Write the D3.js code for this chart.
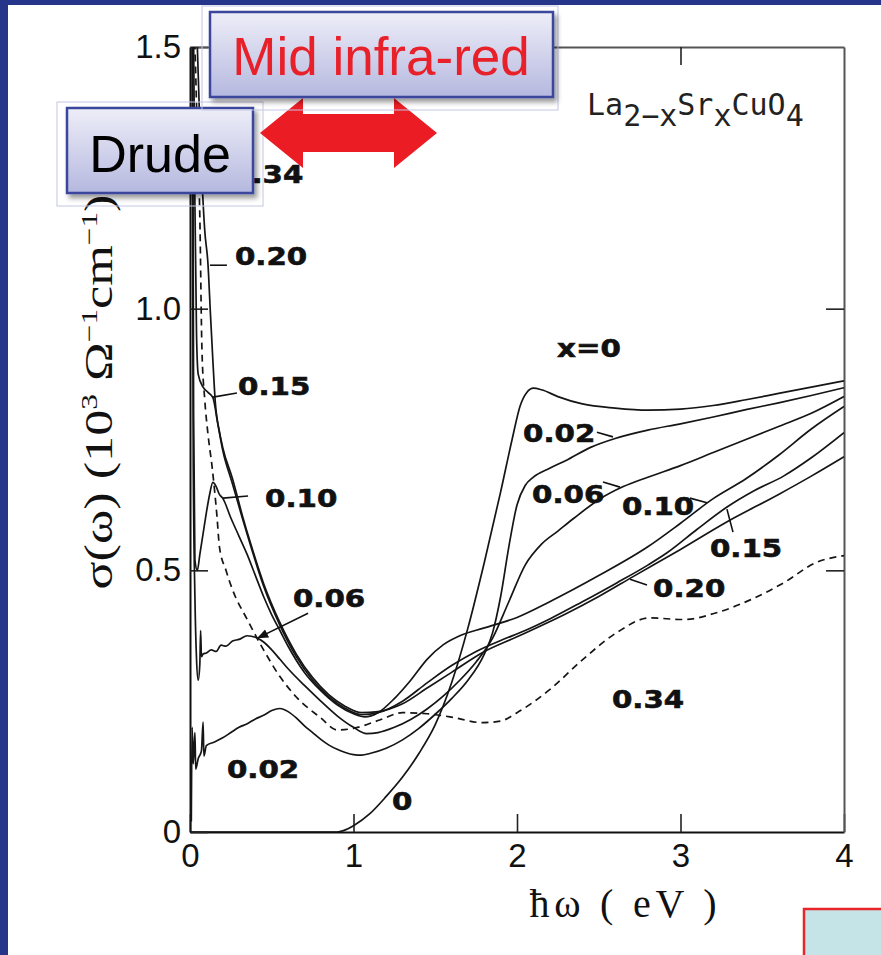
<!DOCTYPE html>
<html><head><meta charset="utf-8">
<script src="https://cdn.jsdelivr.net/npm/d3@7/dist/d3.min.js"></script>
<style>html,body{margin:0;padding:0;background:#fff;}svg{display:block}</style>
</head><body>
<svg id="chart" width="881" height="955"></svg>
<script>
// ---------- data ----------
const xTicks = [0, 1, 2, 3, 4];
const xTickLabels = ["0", "1", "2", "3", "4"];
const yTicks = [0, 0.5, 1.0, 1.5];
const yTickLabels = ["0", "0.5", "1.0", "1.5"];
const dopings = ["0", "0.02", "0.06", "0.10", "0.15", "0.20", "0.34"];

// sigma(omega) in 10^3 Ohm^-1 cm^-1 vs photon energy (eV), [eV, sigma]
const sigmaX000 = [[0,0],[0.5,0],[0.9,0],[0.95,0.004],[1.0,0.012],[1.1,0.035],[1.2,0.068],[1.3,0.105],[1.4,0.15],[1.5,0.205],[1.6,0.285],[1.7,0.39],[1.8,0.515],[1.9,0.65],[1.97,0.75],[2.02,0.815],[2.06,0.84],[2.1,0.848],[2.15,0.845],[2.25,0.832],[2.4,0.818],[2.6,0.81],[2.8,0.806],[3.0,0.808],[3.2,0.815],[3.4,0.826],[3.6,0.838],[3.8,0.85],[4.0,0.862]];
const sigmaX002 = [[0.008,0.02],[0.013,0.2],[0.02,0.13],[0.03,0.19],[0.035,0.12],[0.05,0.14],[0.07,0.155],[0.08,0.21],[0.085,0.145],[0.1,0.165],[0.15,0.172],[0.2,0.18],[0.25,0.19],[0.3,0.2],[0.35,0.207],[0.4,0.216],[0.45,0.223],[0.5,0.232],[0.55,0.236],[0.6,0.23],[0.65,0.218],[0.7,0.203],[0.75,0.19],[0.8,0.177],[0.85,0.166],[0.9,0.158],[0.95,0.152],[1.0,0.148],[1.05,0.147],[1.1,0.15],[1.2,0.16],[1.3,0.176],[1.4,0.198],[1.5,0.225],[1.6,0.255],[1.7,0.29],[1.8,0.34],[1.85,0.38],[1.9,0.45],[1.95,0.545],[2.0,0.625],[2.05,0.662],[2.1,0.678],[2.2,0.695],[2.3,0.71],[2.45,0.735],[2.6,0.752],[2.8,0.768],[3.0,0.78],[3.2,0.793],[3.4,0.807],[3.6,0.82],[3.8,0.834],[4.0,0.849]];
const sigmaX006 = [[0.012,1.6],[0.02,0.7],[0.03,0.45],[0.04,0.33],[0.05,0.29],[0.06,0.32],[0.065,0.385],[0.07,0.335],[0.08,0.34],[0.1,0.342],[0.13,0.348],[0.16,0.345],[0.19,0.357],[0.22,0.355],[0.26,0.365],[0.3,0.368],[0.35,0.375],[0.4,0.372],[0.45,0.363],[0.5,0.348],[0.55,0.33],[0.6,0.312],[0.7,0.28],[0.8,0.25],[0.9,0.222],[1.0,0.2],[1.08,0.188],[1.15,0.19],[1.25,0.2],[1.35,0.215],[1.45,0.235],[1.55,0.26],[1.65,0.29],[1.75,0.325],[1.85,0.37],[1.95,0.44],[2.05,0.51],[2.15,0.55],[2.25,0.575],[2.35,0.6],[2.5,0.635],[2.65,0.66],[2.8,0.678],[3.0,0.7],[3.2,0.725],[3.4,0.75],[3.6,0.775],[3.8,0.8],[4.0,0.832]];
const sigmaX010 = [[0.016,1.6],[0.022,0.8],[0.03,0.52],[0.045,0.5],[0.06,0.53],[0.08,0.57],[0.1,0.61],[0.12,0.645],[0.14,0.668],[0.16,0.66],[0.18,0.645],[0.2,0.638],[0.25,0.6],[0.3,0.565],[0.35,0.53],[0.4,0.49],[0.45,0.45],[0.5,0.415],[0.55,0.385],[0.6,0.355],[0.7,0.305],[0.8,0.27],[0.9,0.243],[1.0,0.226],[1.07,0.22],[1.15,0.228],[1.25,0.255],[1.35,0.29],[1.45,0.33],[1.55,0.358],[1.65,0.375],[1.8,0.39],[2.0,0.41],[2.2,0.44],[2.5,0.49],[2.8,0.545],[3.0,0.59],[3.2,0.637],[3.4,0.675],[3.6,0.72],[3.8,0.77],[4.0,0.813]];
const sigmaX015 = [[0.02,1.6],[0.03,1.2],[0.04,0.95],[0.05,0.875],[0.08,0.85],[0.11,0.84],[0.14,0.83],[0.17,0.78],[0.2,0.73],[0.26,0.665],[0.32,0.6],[0.37,0.548],[0.45,0.47],[0.55,0.395],[0.65,0.335],[0.75,0.29],[0.85,0.258],[0.95,0.236],[1.05,0.224],[1.15,0.228],[1.3,0.25],[1.45,0.285],[1.6,0.318],[1.75,0.345],[1.9,0.366],[2.05,0.385],[2.2,0.407],[2.4,0.44],[2.61,0.476],[2.8,0.51],[2.92,0.534],[3.1,0.578],[3.28,0.62],[3.45,0.652],[3.63,0.68],[3.8,0.715],[4.0,0.763]];
const sigmaX020 = [[0.035,1.6],[0.06,1.35],[0.09,1.15],[0.11,1.085],[0.125,0.99],[0.14,0.9],[0.155,0.82],[0.18,0.765],[0.2,0.735],[0.26,0.675],[0.32,0.605],[0.37,0.552],[0.45,0.475],[0.55,0.4],[0.65,0.34],[0.75,0.295],[0.85,0.262],[0.95,0.24],[1.05,0.228],[1.15,0.23],[1.3,0.245],[1.45,0.275],[1.6,0.305],[1.79,0.343],[2.0,0.373],[2.3,0.417],[2.5,0.45],[2.71,0.488],[3.0,0.54],[3.28,0.592],[3.6,0.645],[3.8,0.68],[4.0,0.717]];
const sigmaX034 = [[0.015,1.6],[0.03,1.5],[0.045,1.33],[0.06,1.177],[0.073,0.922],[0.09,0.827],[0.11,0.76],[0.135,0.698],[0.165,0.603],[0.18,0.545],[0.22,0.5],[0.26,0.463],[0.35,0.406],[0.45,0.348],[0.55,0.297],[0.65,0.258],[0.8,0.218],[0.9,0.195],[1.0,0.198],[1.16,0.214],[1.3,0.228],[1.45,0.226],[1.59,0.22],[1.79,0.209],[1.9,0.212],[2.0,0.228],[2.2,0.272],[2.4,0.329],[2.61,0.381],[2.81,0.409],[3.02,0.406],[3.22,0.419],[3.43,0.444],[3.63,0.476],[3.83,0.515],[4.0,0.528]];

const seriesList = [sigmaX000, sigmaX002, sigmaX006, sigmaX010, sigmaX015, sigmaX020, sigmaX034];

// curve labels (text, anchor in eV / sigma units)
const labelTexts = ["0.34","0.20","0.15","0.10","0.06","0.02","0","x=0","0.02","0.06","0.10","0.15","0.20","0.34"];
const labelAt = [[0.251,1.240],[0.275,1.0835],[0.294,0.835],[0.459,0.621],[0.630,0.430],[0.226,0.103],[1.235,0.042],[2.245,0.908],[2.037,0.745],[2.092,0.629],[2.642,0.606],[3.180,0.525],[2.832,0.449],[2.581,0.237]];
const leaders = [
  [[0.122,1.083],[0.226,1.083]],
  [[0.141,0.831],[0.287,0.839]],
  [[0.202,0.638],[0.355,0.642]],
  [[0.722,0.418],[0.416,0.371]],
  [[2.489,0.764],[2.587,0.755]],
  [[2.526,0.669],[2.630,0.659]],
  [[3.058,0.638],[3.162,0.629]],
  [[3.284,0.617],[3.321,0.573]],
  [[2.691,0.483],[2.795,0.472]]
];

// ---------- drawing ----------
const svg = d3.select("#chart");
const W = 881, H = 955;
const x = d3.scaleLinear().domain([0, 4]).range([190, 844]);
const y = d3.scaleLinear().domain([0, 1.5]).range([832, 47]);

const defs = svg.append("defs");
const grad = defs.append("linearGradient").attr("id","boxGrad").attr("x1",0).attr("y1",0).attr("x2",0).attr("y2",1);
grad.append("stop").attr("offset","0%").attr("stop-color","#eeeef8");
grad.append("stop").attr("offset","100%").attr("stop-color","#b5b8df");
const sh = defs.append("filter").attr("id","shadow").attr("x","-10%").attr("y","-10%").attr("width","130%").attr("height","140%");
sh.append("feDropShadow").attr("dx",3).attr("dy",4).attr("stdDeviation",2.5).attr("flood-color","#000").attr("flood-opacity",0.4);
defs.append("clipPath").attr("id","plotClip").append("rect")
  .attr("x",190).attr("y",47).attr("width",654).attr("height",785);
defs.append("marker").attr("id","arrowHead").attr("viewBox","0 0 10 10").attr("refX",9).attr("refY",5)
  .attr("markerWidth",7).attr("markerHeight",7).attr("orient","auto-start-reverse")
  .append("path").attr("d","M0,1 L10,5 L0,9 Z").attr("fill","#111");

// slide background
svg.append("rect").attr("width",W).attr("height",H).attr("fill","#fff");
svg.append("rect").attr("x",0).attr("y",0).attr("width",W).attr("height",5).attr("fill","#25368a");
svg.append("rect").attr("x",0).attr("y",0).attr("width",8).attr("height",H).attr("fill","#25368a");

// axes
const axFont = "'Liberation Sans', Arial, sans-serif";
const gB = svg.append("g").attr("transform","translate(0,832)")
  .call(d3.axisBottom(x).tickValues(xTicks).tickFormat((d,i)=>xTickLabels[i]).tickSizeInner(-18).tickSizeOuter(0).tickPadding(12));
const gL = svg.append("g").attr("transform","translate(190,0)")
  .call(d3.axisLeft(y).tickValues(yTicks).tickFormat((d,i)=>yTickLabels[i]).tickSizeInner(-18).tickSizeOuter(0).tickPadding(9));
const gT = svg.append("g").attr("transform","translate(0,47)")
  .call(d3.axisTop(x).tickValues([1,2,3]).tickFormat("").tickSizeInner(-18).tickSizeOuter(0));
const gR = svg.append("g").attr("transform","translate(844,0)")
  .call(d3.axisRight(y).tickValues([0.5,1.0]).tickFormat("").tickSizeInner(-18).tickSizeOuter(0));
[gB,gL].forEach(g=>{
  g.select(".domain").attr("stroke","#111").attr("stroke-width",2);
  g.selectAll(".tick line").attr("stroke","#222").attr("stroke-width",1.6);
  g.selectAll("text").attr("font-family",axFont).attr("font-size",33).attr("fill","#111");
});
[gT,gR].forEach(g=>{
  g.select(".domain").attr("stroke","#555").attr("stroke-width",2);
  g.selectAll(".tick line").attr("stroke","#222").attr("stroke-width",1.6);
});

// axis titles
svg.append("text").attr("x",623).attr("y",917).attr("text-anchor","middle")
  .attr("font-family","'Liberation Serif','Times New Roman',serif").attr("font-size",40).attr("fill","#111")
  .attr("textLength",187).attr("lengthAdjust","spacing")
  .text("\u0127\u03c9 ( eV )");
const yt = svg.append("text").attr("transform","translate(112,392) rotate(-90)").attr("text-anchor","middle")
  .attr("font-family","'Liberation Serif','Times New Roman',serif").attr("font-size",40).attr("fill","#111")
  .attr("textLength",395).attr("lengthAdjust","spacingAndGlyphs");
yt.append("tspan").text("\u03c3(\u03c9) (10");
yt.append("tspan").attr("font-size",24).attr("dy",-15).text("3");
yt.append("tspan").attr("dy",15).text(" \u03a9");
yt.append("tspan").attr("font-size",24).attr("dy",-15).text("\u22121");
yt.append("tspan").attr("dy",15).text("cm");
yt.append("tspan").attr("font-size",24).attr("dy",-15).text("\u22121");
yt.append("tspan").attr("dy",15).text(")");

// curves
const line = d3.line().x(d=>x(d[0])).y(d=>y(d[1])).curve(d3.curveMonotoneX);
const plot = svg.append("g").attr("clip-path","url(#plotClip)");
plot.selectAll("path.curve").data(seriesList).join("path")
  .attr("class","curve")
  .attr("d", line)
  .attr("fill","none")
  .attr("stroke","#151515")
  .attr("stroke-width",1.7)
  .attr("stroke-dasharray",(d,i)=> dopings[i]==="0.34" ? "7,5" : null);

// leaders
svg.append("g").selectAll("line").data(leaders).join("line")
  .attr("x1",d=>x(d[0][0])).attr("y1",d=>y(d[0][1]))
  .attr("x2",d=>x(d[1][0])).attr("y2",d=>y(d[1][1]))
  .attr("stroke","#111").attr("stroke-width",1.6)
  .attr("marker-end",(d,i)=> i===3 ? "url(#arrowHead)" : null);

// curve labels
svg.append("g").selectAll("text").data(labelTexts).join("text")
  .attr("transform",(d,i)=>`translate(${x(labelAt[i][0])},${y(labelAt[i][1])}) scale(1.22,1)`)
  .attr("font-family","'DejaVu Sans',sans-serif").attr("font-weight","bold").attr("font-size",24)
  .attr("fill","#111").attr("stroke","#111").attr("stroke-width",0.6).text(d=>d);

// compound label
const comp = svg.append("text").attr("x",587).attr("y",115)
  .attr("font-family","'DejaVu Sans Mono',monospace").attr("font-size",30).attr("fill","#222");
comp.append("tspan").text("La");
comp.append("tspan").attr("dy",11).text("2\u2212x");
comp.append("tspan").attr("dy",-11).text("Sr");
comp.append("tspan").attr("dy",11).text("x");
comp.append("tspan").attr("dy",-11).text("CuO");
comp.append("tspan").attr("dy",11).text("4");

// ----- slide annotations -----
// Drude
svg.append("rect").attr("x",57).attr("y",102).attr("width",206).attr("height",104)
  .attr("fill","none").attr("stroke","#c3c6e3").attr("stroke-width",1);
svg.append("rect").attr("x",67).attr("y",108).attr("width",186).attr("height",85)
  .attr("fill","url(#boxGrad)").attr("stroke","#3a479d").attr("stroke-width",2.5).attr("filter","url(#shadow)");
svg.append("text").attr("x",160).attr("y",172).attr("text-anchor","middle")
  .attr("font-family",axFont).attr("font-size",52).attr("fill","#000").text("Drude");

// red double arrow
const ax0 = 260, ax1 = 437, ay = 133, hh = 35, hl = 43, sw = 19;
svg.append("path").attr("fill","#ec1c24")
  .attr("d",`M${ax0},${ay} L${ax0+hl},${ay-hh} L${ax0+hl},${ay-sw} L${ax1-hl},${ay-sw} L${ax1-hl},${ay-hh} L${ax1},${ay} L${ax1-hl},${ay+hh} L${ax1-hl},${ay+sw} L${ax0+hl},${ay+sw} L${ax0+hl},${ay+hh} Z`);

// Mid infra-red
svg.append("rect").attr("x",202).attr("y",6).attr("width",356).attr("height",104)
  .attr("fill","none").attr("stroke","#c3c6e3").attr("stroke-width",1);
svg.append("rect").attr("x",210).attr("y",12).attr("width",343).attr("height",85)
  .attr("fill","url(#boxGrad)").attr("stroke","#3a479d").attr("stroke-width",2.5).attr("filter","url(#shadow)");
svg.append("text").attr("x",381).attr("y",75).attr("text-anchor","middle")
  .attr("font-family",axFont).attr("font-size",53).attr("fill","#e8202a").text("Mid infra-red");

// bottom-right box
svg.append("rect").attr("x",804).attr("y",909).attr("width",100).attr("height",80)
  .attr("fill","#c4e4e8").attr("stroke","#e8262a").attr("stroke-width",2.5);
</script>
</body></html>
